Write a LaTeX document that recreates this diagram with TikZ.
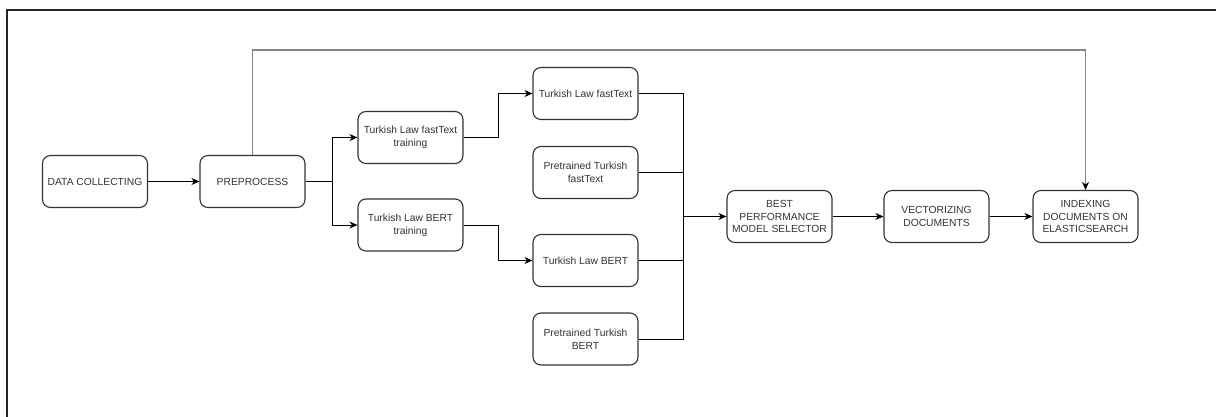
\documentclass[tikz,border=0pt]{standalone}
\usepackage{fontspec}
\setmainfont{Liberation Sans}
\usetikzlibrary{arrows.meta,calc}
\definecolor{boxline}{HTML}{333333}
\definecolor{txt}{HTML}{333333}
\definecolor{topline}{HTML}{858585}
\begin{document}
\begin{tikzpicture}[x=1pt,y=-1pt,
  box/.style={draw=boxline,line width=1.1pt,rounded corners=8pt,minimum width=105pt,minimum height=52pt,
    align=center,text=txt,font=\fontsize{10.3}{13}\selectfont,inner sep=1pt},
  conn/.style={draw=black,line width=0.9pt},
  arr/.style={conn,-{Stealth[length=8pt,width=7pt,inset=2.5pt]}},
  garr/.style={draw=topline,line width=1.8pt,-{Stealth[length=8pt,width=7pt,inset=2.5pt,fill=black,color=black]}}]
\useasboundingbox (0,0) rectangle (1216,417);
\fill[white] (0,0) rectangle (1216,417);
\draw[line width=1.2pt,black!85] (7,417) -- (7,10) -- (1216,10);

\node[box] (dc) at (95,181.5) {DATA COLLECTING};
\node[box] (pre) at (252.5,181.5) {PREPROCESS};
\node[box] (ftt) at (410.5,137.5) {Turkish Law fastText\\training};
\node[box] (btt) at (410.5,225) {Turkish Law BERT\\training};
\node[box] (tlft) at (585.5,93.5) {Turkish Law fastText};
\node[box] (ptft) at (585.5,172.5) {Pretrained Turkish\\fastText};
\node[box] (tlb) at (585.5,260.5) {Turkish Law BERT};
\node[box] (ptb) at (585.5,339) {Pretrained Turkish\\BERT};
\node[box,font=\fontsize{10.3}{12.5}\selectfont] (best) at (779.5,216.5) {BEST\\PERFORMANCE\\MODEL SELECTOR};
\node[box] (vec) at (936.5,216.5) {VECTORIZING\\DOCUMENTS};
\node[box,font=\fontsize{10.3}{12.5}\selectfont] (idx) at (1085.5,216.5) {INDEXING\\DOCUMENTS ON\\ELASTICSEARCH};

\coordinate (fork) at (332,181.5);
\coordinate (f1) at (498,137.5);
\coordinate (f2) at (498,225);
\coordinate (mtop) at (683,93.5);
\coordinate (mbot) at (683,339);
\coordinate (mmid) at (683,216.5);
\coordinate (up) at (252.5,50);

\draw[arr] (dc) -- (pre);
\draw[conn] (pre.east) -- (fork);
\draw[arr] (fork) |- (ftt.west);
\draw[arr] (fork) |- (btt.west);
\draw[arr] (ftt.east) -- (f1) |- (tlft.west);
\draw[arr] (btt.east) -- (f2) |- (tlb.west);
\draw[conn] (tlft.east) -- (mtop) -- (mbot) -- (ptb.east);
\draw[conn] (ptft.east) -- (ptft.east -| mtop);
\draw[conn] (tlb.east) -- (tlb.east -| mtop);
\draw[arr] (mmid) -- (best.west);
\draw[arr] (best) -- (vec);
\draw[arr] (vec) -- (idx);
\draw[garr] (pre.north) -- (up) -| (idx.north);
\end{tikzpicture}
\end{document}
